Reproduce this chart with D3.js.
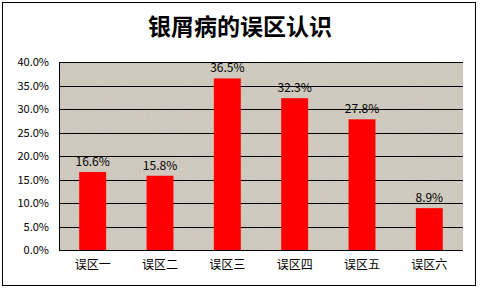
<!DOCTYPE html>
<html>
<head>
<meta charset="utf-8">
<script src="https://cdn.jsdelivr.net/npm/d3@7"></script>
<style>
  body { margin: 0; background: #fff; }
  text { font-family: "Noto Sans CJK SC", "DejaVu Sans", sans-serif; }
</style>
</head>
<body>
<svg id="chart" width="480" height="288"></svg>
<script>
var categories = ['误区一', '误区二', '误区三', '误区四', '误区五', '误区六'];
var values = [16.6, 15.8, 36.5, 32.3, 27.8, 8.9];
var yTicks = [0, 5, 10, 15, 20, 25, 30, 35, 40];
var title = '银屑病的误区认识';

var svg = d3.select('#chart');
var plot = {left: 59, top: 62, right: 463, bottom: 250};

// stone texture
var defs = svg.append('defs');
var filt = defs.append('filter').attr('id', 'stone')
    .attr('x', 0).attr('y', 0).attr('width', 1).attr('height', 1);
filt.append('feTurbulence').attr('type', 'fractalNoise')
    .attr('baseFrequency', 0.7).attr('numOctaves', 3).attr('seed', 3).attr('result', 'n');
filt.append('feColorMatrix').attr('type', 'matrix')
    .attr('values', '0 0 0 0 0.72  0 0 0 0 0.69  0 0 0 0 0.63  1.2 0 0 0 -0.3');

// outer border
svg.append('rect')
    .attr('x', 2.5).attr('y', 2.5).attr('width', 473).attr('height', 283)
    .attr('fill', '#fff').attr('stroke', '#000').attr('stroke-width', 1);

var x = d3.scaleBand().domain(categories).range([plot.left, plot.right]).paddingInner(0.6).paddingOuter(0.3);
var y = d3.scaleLinear().domain([0, 40]).range([plot.bottom, plot.top]);

svg.append('rect')
    .attr('x', plot.left).attr('y', plot.top)
    .attr('width', plot.right - plot.left).attr('height', plot.bottom - plot.top)
    .attr('fill', '#cdc6ba');
svg.append('rect')
    .attr('x', plot.left).attr('y', plot.top)
    .attr('width', plot.right - plot.left).attr('height', plot.bottom - plot.top)
    .attr('fill', '#fff').attr('filter', 'url(#stone)').attr('opacity', 0.5);

// gridlines
svg.append('g').selectAll('line')
    .data(yTicks)
    .enter().append('line')
    .attr('x1', plot.left).attr('x2', plot.right)
    .attr('y1', function(d){ return Math.round(y(d)) + 0.5; })
    .attr('y2', function(d){ return Math.round(y(d)) + 0.5; })
    .attr('stroke', '#000').attr('stroke-width', 1);

// left edge
svg.append('line')
    .attr('x1', plot.left + 0.5).attr('x2', plot.left + 0.5)
    .attr('y1', plot.top).attr('y2', plot.bottom)
    .attr('stroke', '#000');

// y labels
svg.append('g').selectAll('text')
    .data(yTicks)
    .enter().append('text')
    .attr('x', 49)
    .attr('y', function(d){ return y(d) + 4; })
    .attr('text-anchor', 'end')
    .attr('font-size', 11)
    .text(function(d){ return d.toFixed(1) + '%'; });

// bars
svg.append('g').selectAll('rect')
    .data(values)
    .enter().append('rect')
    .attr('x', function(d, i){ return x(categories[i]); })
    .attr('y', function(d){ return y(d); })
    .attr('width', x.bandwidth())
    .attr('height', function(d){ return plot.bottom - y(d); })
    .attr('fill', '#ff0000');

// value labels
svg.append('g').selectAll('text')
    .data(values)
    .enter().append('text')
    .attr('x', function(d, i){ return x(categories[i]) + x.bandwidth() / 2; })
    .attr('y', function(d){ return y(d) - 6; })
    .attr('text-anchor', 'middle')
    .attr('font-size', 12)
    .text(function(d){ return d.toFixed(1) + '%'; });

// x labels
svg.append('g').selectAll('text')
    .data(categories)
    .enter().append('text')
    .attr('x', function(d){ return x(d) + x.bandwidth() / 2; })
    .attr('y', 269)
    .attr('text-anchor', 'middle')
    .attr('font-size', 12)
    .text(function(d){ return d; });

// title
svg.append('text')
    .attr('x', 240).attr('y', 35)
    .attr('text-anchor', 'middle')
    .attr('font-size', 23)
    .attr('font-weight', 'bold')
    .text(title);
</script>
</body>
</html>
